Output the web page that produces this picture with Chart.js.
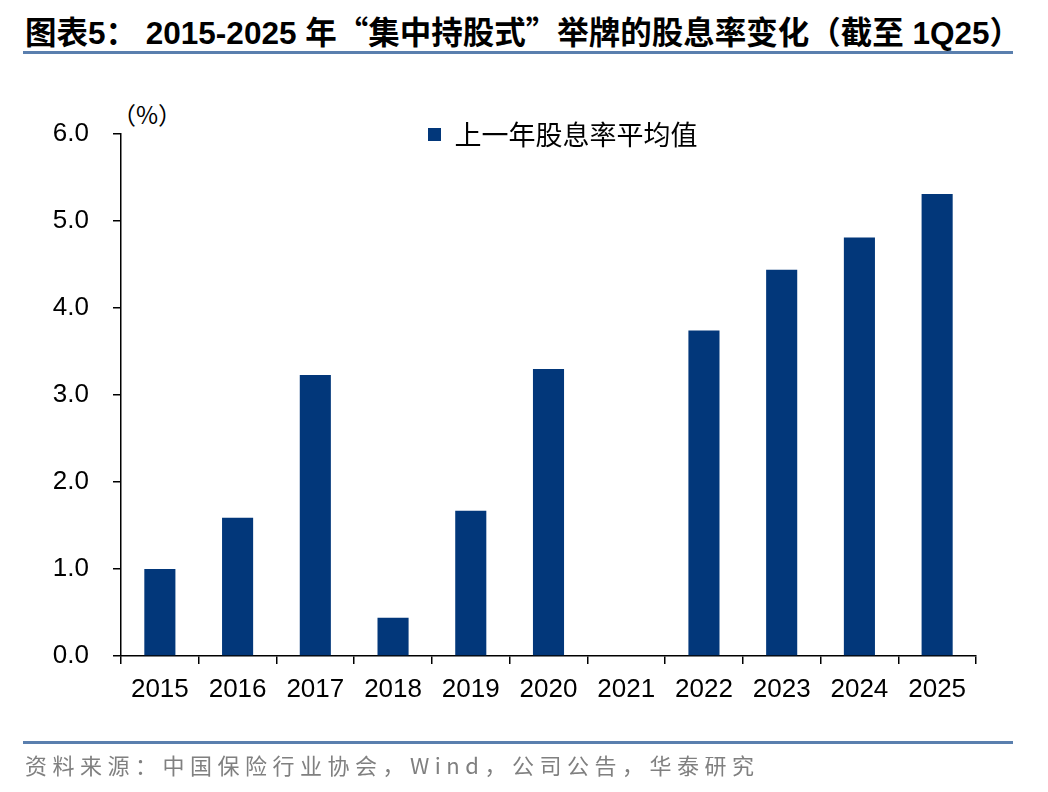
<!DOCTYPE html>
<html>
<head>
<meta charset="utf-8">
<script src="https://cdn.jsdelivr.net/npm/chart.js@4/dist/chart.umd.min.js"></script>
<style>
  html, body { margin: 0; padding: 0; background: #fff; }
  #wrap { position: relative; width: 1048px; height: 792px; overflow: hidden; }
  #title { position: absolute; left: 25px; top: 10px; white-space: nowrap;
    font-family: "Liberation Sans", "Noto Sans CJK SC", sans-serif; font-weight: 700; font-size: 31.5px; color: #000; line-height: 40px; }
  #title .cj { font-family: "Noto Sans CJK SC", sans-serif; }
  #topline { position: absolute; left: 23px; width: 990px; top: 51px; height: 3px; background: #5a7fae; }
  #botline { position: absolute; left: 23px; width: 990px; top: 741px; height: 3px; background: #5a7fae; }
  #source { position: absolute; left: 25px; top: 750px; white-space: nowrap;
    font-family: "Noto Sans CJK SC", sans-serif; font-size: 22px; color: #808080; letter-spacing: 5.5px; line-height: 28px; }
  #unit { position: absolute; left: 112px; top: 99px; white-space: nowrap;
    font-family: "Noto Sans CJK SC", sans-serif; font-size: 24px; color: #000; line-height: 30px; }
  canvas { position: absolute; left: 0; top: 0; }
</style>
</head>
<body>
<div id="wrap">
  <div id="title">图表5<span class="cj">：</span>&nbsp;2015-2025 年<span class="cj">“</span>集中持股式<span class="cj">”</span>举牌的股息率变化（截至 1Q25）</div>
  <div id="topline"></div>
  <div id="unit">（%）</div>
  <canvas id="c" width="1048" height="792"></canvas>
  <div id="botline"></div>
  <div id="source">资料来源：中国保险行业协会，Wind，公司公告，华泰研究</div>
</div>
<script>
const categories = ['2015','2016','2017','2018','2019','2020','2021','2022','2023','2024','2025'];
const seriesName = '上一年股息率平均值';
const dividendYield = [1.00, 1.59, 3.23, 0.44, 1.67, 3.30, 0, 3.74, 4.44, 4.81, 5.31];
const yTicks = [0, 1, 2, 3, 4, 5, 6];

const legendPlace = {
  id: 'legendPlace',
  afterLayout(chart) {
    const lg = chart.legend;
    if (!lg) return;
    const w = lg.width, h = lg.height;
    lg.left = 418; lg.right = lg.left + w;
    lg.top = 111; lg.bottom = lg.top + h;
  }
};

new Chart(document.getElementById('c'), {
  type: 'bar',
  data: {
    labels: categories,
    datasets: [{
      label: seriesName,
      data: dividendYield,
      backgroundColor: '#02377A',
      borderWidth: 0,
      barPercentage: 0.4,
      categoryPercentage: 1.0
    }]
  },
  plugins: [legendPlace],
  options: {
    responsive: false,
    animation: false,
    devicePixelRatio: 1,
    layout: { padding: { left: 0, right: 72, top: 134, bottom: 76 } },
    plugins: {
      legend: {
        position: 'chartArea',
        align: 'start',
        labels: {
          boxWidth: 13, boxHeight: 13, padding: 10,
          color: '#000',
          font: { family: '"Noto Sans CJK SC", sans-serif', size: 27 }
        }
      },
      tooltip: { enabled: false }
    },
    scales: {
      x: {
        offset: true,
        grid: { display: true, drawOnChartArea: false, drawTicks: true, tickLength: 8, color: '#000', lineWidth: 1.5, offset: true },
        border: { display: true, color: '#000', width: 1.5 },
        ticks: { color: '#000', padding: 10, font: { family: '"Liberation Sans", Arial, sans-serif', size: 26 }, maxRotation: 0, autoSkip: false },
        afterFit(axis) { axis.height = 60; }
      },
      y: {
        min: 0, max: 6,
        afterBuildTicks(axis) { axis.ticks = yTicks.map(v => ({ value: v })); },
        grid: { display: true, drawOnChartArea: false, drawTicks: true, tickLength: 8, color: '#000', lineWidth: 1.5 },
        border: { display: true, color: '#000', width: 1.5 },
        ticks: { color: '#000', padding: 24, font: { family: '"Liberation Sans", Arial, sans-serif', size: 26 },
          callback: v => Number(v).toFixed(1) },
        afterFit(axis) { axis.width = 121; }
      }
    }
  }
});
</script>
</body>
</html>
